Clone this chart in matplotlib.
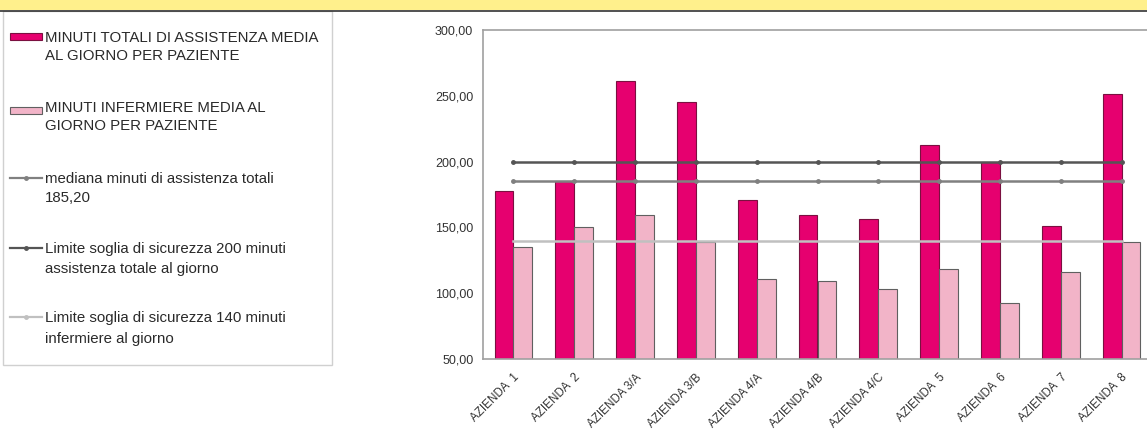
import matplotlib
matplotlib.use("Agg")
import matplotlib.pyplot as plt
from matplotlib.patches import Rectangle
from matplotlib.lines import Line2D
from matplotlib.transforms import ScaledTranslation
import numpy as np

plt.rcParams['font.family'] = ['Liberation Sans', 'DejaVu Sans']

categories = ["AZIENDA  1", "AZIENDA  2", "AZIENDA 3/A", "AZIENDA 3/B", "AZIENDA 4/A",
              "AZIENDA 4/B", "AZIENDA 4/C", "AZIENDA  5", "AZIENDA  6", "AZIENDA  7", "AZIENDA  8"]
minuti_totali = [177.3, 185.0, 261.0, 245.3, 171.0, 159.6, 156.5, 212.3, 199.7, 150.7, 251.4]
minuti_infermiere = [135.2, 150.2, 159.6, 138.8, 110.9, 109.4, 103.0, 118.5, 92.4, 116.0, 138.8]
mediana_totali = 185.20
soglia_totale = 200
soglia_infermiere = 140

legend_labels = [
    ["MINUTI TOTALI DI ASSISTENZA MEDIA", "AL GIORNO PER PAZIENTE"],
    ["MINUTI INFERMIERE MEDIA AL", "GIORNO PER PAZIENTE"],
    ["mediana minuti di assistenza totali", "185,20"],
    ["Limite soglia di sicurezza 200 minuti", "assistenza totale al giorno"],
    ["Limite soglia di sicurezza 140 minuti", "infermiere al giorno"],
]

W, H = 1147, 434
fig = plt.figure(figsize=(W / 100, H / 100), dpi=100)
fig.patch.set_facecolor("white")

def fx(px):
    return px / W

def fy(py):
    return 1 - py / H

# header band
fig.patches.append(Rectangle((0, fy(10)), 1, 10 / H, transform=fig.transFigure,
                             facecolor="#FFF08C", edgecolor="none", zorder=0))
fig.lines.append(Line2D([0, 1], [fy(10.5), fy(10.5)], transform=fig.transFigure,
                        color="#333333", lw=1.2))

# legend box
fig.patches.append(Rectangle((fx(3), fy(365)), fx(329), (365 - 11) / H, transform=fig.transFigure,
                             facecolor="white", edgecolor="#D0D0D0", lw=1.0, zorder=1))

dark_color = "#E6006F"
dark_edge = "#7A1040"
light_color = "#F2B4C8"
light_edge = "#606060"
c200 = "#555555"
cmed = "#808080"
c140 = "#C0C0C0"

# legend entries: centre of first and second text line (pixels from top)
line_centres = [(37, 55), (107, 125), (178, 197), (248, 268), (317, 338)]
marker_y = [36, 110, 178, 248, 317]
for i, lab in enumerate(legend_labels):
    my = marker_y[i]
    if i == 0:
        fig.patches.append(Rectangle((fx(10), fy(my + 3.5)), fx(32), 7 / H, transform=fig.transFigure,
                                     facecolor=dark_color, edgecolor=dark_edge, lw=0.8, zorder=2))
    elif i == 1:
        fig.patches.append(Rectangle((fx(10), fy(my + 3.5)), fx(32), 7 / H, transform=fig.transFigure,
                                     facecolor=light_color, edgecolor=light_edge, lw=0.8, zorder=2))
    else:
        col = [cmed, c200, c140][i - 2]
        fig.lines.append(Line2D([fx(10), fx(42)], [fy(my), fy(my)], transform=fig.transFigure,
                                color=col, lw=1.6, zorder=2))
        fig.lines.append(Line2D([fx(26)], [fy(my)], transform=fig.transFigure, color=col,
                                marker="o", markersize=2.5, zorder=3))
    for j, t in enumerate(lab):
        yc = line_centres[i][j]
        fig.text(fx(45), fy(yc + 5), t, fontsize=10.8, color="#2A2A2A", va="baseline",
                 ha="left", zorder=3)

# main axes
left_px, right_px = 483, 1152
top_px, bot_px = 30, 359
ax = fig.add_axes([fx(left_px), fy(bot_px), fx(right_px - left_px), (bot_px - top_px) / H])
ax.set_facecolor("white")

x = np.arange(len(categories))
bw = 0.31
ax.bar(x - bw / 2, minuti_totali, width=bw, color=dark_color, edgecolor=dark_edge, lw=0.8,
       zorder=2)
ax.bar(x + bw / 2, minuti_infermiere, width=bw, color=light_color, edgecolor=light_edge, lw=0.8,
       zorder=2)

ax.plot(x, [soglia_totale] * len(x), color=c200, lw=1.8, marker="o", markersize=2.5, zorder=3)
ax.plot(x, [mediana_totali] * len(x), color=cmed, lw=1.8, marker="o", markersize=2.5, zorder=3)
ax.plot(x, [soglia_infermiere] * len(x), color=c140, lw=1.8, zorder=3)

ax.set_ylim(50, 300)
ax.set_xlim(-0.5, len(categories) - 0.5)
ticks = [50, 100, 150, 200, 250, 300]
ax.set_yticks(ticks)
ax.set_yticklabels([f"{v:.2f}".replace(".", ",") for v in ticks], fontsize=9, color="#333333")
ax.set_xticks(x)
ax.set_xticklabels(categories, fontsize=8.4, color="#333333", rotation=45, ha="right",
                   va="top", rotation_mode="anchor")
offset = ScaledTranslation(-5 / 100, 0, fig.dpi_scale_trans)
for lbl in ax.get_xticklabels():
    lbl.set_transform(lbl.get_transform() + offset)
ax.tick_params(axis="y", length=0, pad=7)
ax.tick_params(axis="x", length=0, pad=9)
for s in ax.spines.values():
    s.set_color("#A0A0A0")
    s.set_linewidth(1.2)

fig.savefig("out.png", dpi=100)
